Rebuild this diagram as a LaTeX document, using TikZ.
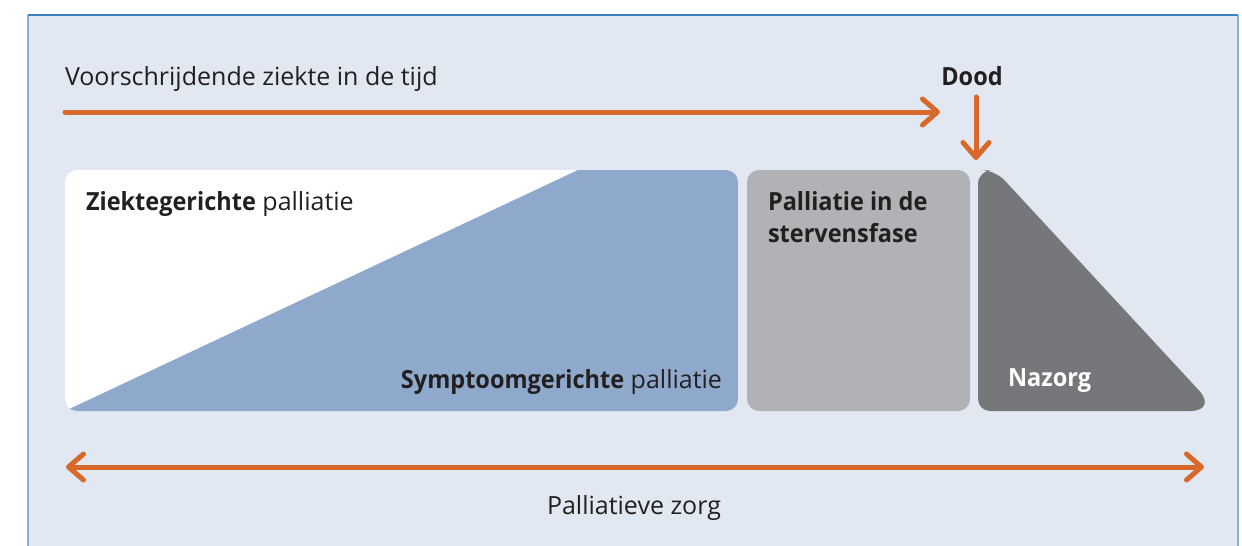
\documentclass[tikz,border=0pt]{standalone}
\usepackage{fontspec}
\setmainfont{Open Sans}[BoldFeatures={FakeStretch=0.94}]
\usetikzlibrary{arrows.meta}
\definecolor{bg}{HTML}{E1E8F2}
\definecolor{frametop}{HTML}{3F7FC0}
\definecolor{frameside}{HTML}{8BADD5}
\definecolor{orng}{HTML}{D9682B}
\definecolor{bluefill}{HTML}{8FA9CC}
\definecolor{lgrey}{HTML}{B1B2B6}
\definecolor{dgrey}{HTML}{76777B}
\definecolor{txt}{HTML}{231F20}
\tikzset{
  lbl/.style={font=\fontsize{25}{32}\selectfont, text=txt, inner sep=0pt, outer sep=0pt},
  blbl/.style={lbl, font=\fontsize{25}{32}\selectfont\bfseries},
  tl/.style={draw=orng, line width=5pt, line cap=round,
    -{Straight Barb[round, length=15pt, width=26pt]}},
  tlboth/.style={draw=orng, line width=5pt, line cap=round,
    {Straight Barb[round, length=15pt, width=26pt]}-{Straight Barb[round, length=15pt, width=26pt]}}
}
\begin{document}
\begin{tikzpicture}[x=1pt,y=-1pt]
\useasboundingbox (0,0) rectangle (1242,546);
\fill[white] (0,0) rectangle (1242,546);
% frame
\fill[bg] (28,15) rectangle (1238,546);
\draw[frameside, line width=1.5pt] (28,546) -- (28,15);
\draw[frameside, line width=1.5pt] (1238,15) -- (1238,546);
\draw[frametop, line width=1.5pt] (28,15) -- (1238,15);

% box 1
\begin{scope}
\clip[rounded corners=12pt] (65,170) rectangle (738,411);
\fill[white] (65,170) rectangle (738,411);
\fill[bluefill] (65,411) -- (578,170) -- (738,170) -- (738,411) -- cycle;
\end{scope}
% box 2
\fill[lgrey, rounded corners=12pt] (747,170) rectangle (970,411);
% box 3
\fill[dgrey] (978,399) [rounded corners=14pt] -- (978,170) -- (995,170) [rounded corners=28pt] -- (1218,411) [rounded corners=0pt] -- (990,411) arc[start angle=90, end angle=180, radius=12] -- cycle;

% texts
\node[lbl, anchor=base west] (ziekte) at (65,85) {Voorschrijdende ziekte in de tijd};
\node[blbl, anchor=base] (dood) at (972,85) {Dood};
\node[lbl, anchor=base west] (zg) at (86,210) {\textbf{Ziektegerichte} palliatie};
\node[lbl, anchor=base east] (sg) at (722,388) {\textbf{Symptoomgerichte} palliatie};
\node[blbl, anchor=base west] (sterf1) at (768,210) {Palliatie in de};
\node[blbl, anchor=base west] (sterf2) at (768,242) {stervensfase};
\node[blbl, anchor=base west, text=white] (nazorg) at (1008,386) {Nazorg};
\node[lbl, anchor=base] (pz) at (634,514) {Palliatieve zorg};

% arrows
\coordinate (t0) at (65,112);
\coordinate (t1) at (940,112);
\coordinate (d0) at (976,97);
\coordinate (d1) at (976,160);
\coordinate (b0) at (66,467);
\coordinate (b1) at (1204,467);
\draw[tl] (t0) -- (t1);
\draw[tl] (d0) -- (d1);
\draw[tlboth] (b0) -- (b1);
\end{tikzpicture}
\end{document}
